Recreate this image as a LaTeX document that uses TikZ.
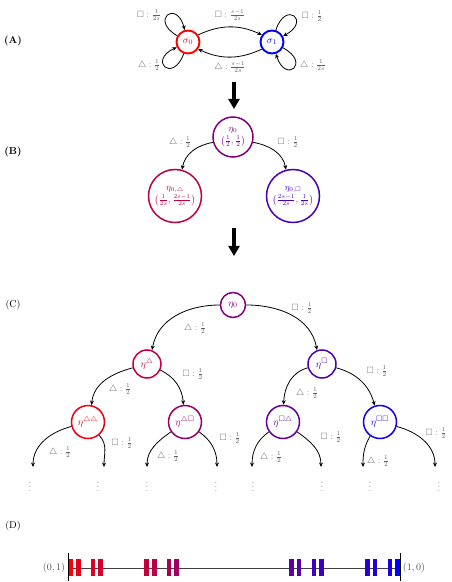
\documentclass[tikz,border=0pt]{standalone}
\usepackage{amssymb}
\usetikzlibrary{arrows.meta}
\colorlet{cP}{red!50!blue}
\colorlet{cBL}{red!74!blue}
\colorlet{cBR}{red!28!blue}
\colorlet{cL}{red!76!blue}
\colorlet{cR}{red!30!blue}
\colorlet{cLL}{red!92!blue}
\colorlet{cLR}{red!60!blue}
\colorlet{cRL}{red!40!blue}
\colorlet{cRR}{red!8!blue}
\colorlet{labgray}{black!62}
\tikzset{
  stnode/.style={circle, draw, line width=1.9pt, minimum size=23pt, inner sep=0pt},
  bnode/.style={circle, draw, line width=1.5pt, inner sep=0pt, align=center, font=\small},
  tnode/.style={circle, draw, line width=1.5pt, inner sep=0pt, font=\normalsize},
  lab/.style={text=labgray, font=\small, inner sep=1pt},
  arr/.style={-{Stealth[length=4.5pt,width=4pt]}, line width=0.8pt},
  bigarr/.style={-{Triangle[length=10pt,width=11pt]}, line width=3.6pt},
  panel/.style={font=\normalsize, inner sep=0pt},
  dots/.style={font=\scriptsize, inner sep=0pt}
}
\begin{document}
\begin{tikzpicture}[x=1pt,y=1pt]
\useasboundingbox (0,0) rectangle (452,582);
% ---------- (A)
\node[panel] (pA) at (13,541) {\textbf{(A)}};
\node[stnode, draw=red, text=red] (s0) at (188,540) {$\sigma_0$};
\node[stnode, draw=blue, text=blue] (s1) at (272,540) {$\sigma_1$};
\draw[arr] (s0.150) .. controls +(150:32) and +(105:32) .. (s0.105);
\draw[arr] (s0.250) .. controls +(250:32) and +(205:32) .. (s0.205);
\draw[arr] (s1.72) .. controls +(72:32) and +(28:32) .. (s1.28);
\draw[arr] (s1.-28) .. controls +(-28:32) and +(-72:32) .. (s1.-72);
\draw[arr] (s0.35) to[bend left=25] (s1.145);
\draw[arr] (s1.-145) to[bend left=25] (s0.-35);
\node[lab] (la1) at (149,567) {$\square:\frac{1}{2s}$};
\node[lab] (la2) at (149,517) {$\triangle:\frac{1}{2}$};
\node[lab] (la3) at (312,566) {$\square:\frac{1}{2}$};
\node[lab] (la4) at (313,517) {$\triangle:\frac{1}{2s}$};
\node[lab] (la5) at (230,567) {$\square:\frac{s-1}{2s}$};
\node[lab] (la6) at (230,515) {$\triangle:\frac{s-1}{2s}$};
\coordinate (ar1a) at (234,500);
\coordinate (ar1b) at (234,473);
\draw[bigarr] (ar1a) -- (ar1b);
% ---------- (B)
\node[panel] (pB) at (13,430) {\textbf{(B)}};
\node[bnode, draw=cP, text=cP, minimum size=40pt] (b0) at (233,445) {$\eta_0$\\[1pt]$\left(\frac{1}{2},\frac{1}{2}\right)$};
\node[bnode, draw=cBL, text=cBL, minimum size=53pt] (bL) at (175,386) {$\eta_{0,\triangle}$\\[1pt]$\left(\frac{1}{2s},\frac{2s-1}{2s}\right)$};
\node[bnode, draw=cBR, text=cBR, minimum size=53pt] (bR) at (293,386) {$\eta_{0,\square}$\\[1pt]$\left(\frac{2s-1}{2s},\frac{1}{2s}\right)$};
\draw[arr] (b0.195) to[out=190,in=80] (bL.75);
\draw[arr] (b0.-15) to[out=-10,in=100] (bR.105);
\node[lab] (lb1) at (180,440) {$\triangle:\frac{1}{2}$};
\node[lab] (lb2) at (288,440) {$\square:\frac{1}{2}$};
\coordinate (ar2a) at (234,354);
\coordinate (ar2b) at (234,326);
\draw[bigarr] (ar2a) -- (ar2b);
% ---------- (C)
\node[panel] (pC) at (13,277) {(C)};
\node[tnode, draw=cP, text=cP, minimum size=25pt] (c0) at (233,277) {$\eta_0$};
\node[tnode, draw=cL, text=cL, minimum size=28pt] (cl) at (147,218) {$\eta^{\triangle}$};
\node[tnode, draw=cR, text=cR, minimum size=28pt] (cr) at (322,218) {$\eta^{\square}$};
\node[tnode, draw=cLL, text=cLL, minimum size=33pt] (cll) at (88,160) {$\eta^{\triangle\triangle}$};
\node[tnode, draw=cLR, text=cLR, minimum size=33pt] (clr) at (185,160) {$\eta^{\triangle\square}$};
\node[tnode, draw=cRL, text=cRL, minimum size=33pt] (crl) at (283,160) {$\eta^{\square\triangle}$};
\node[tnode, draw=cRR, text=cRR, minimum size=33pt] (crr) at (380,160) {$\eta^{\square\square}$};
\draw[arr] (c0.west) to[out=180,in=80] (cl.70);
\draw[arr] (c0.east) to[out=0,in=100] (cr.110);
\draw[arr] (cl.195) to[out=195,in=85] (cll.78);
\draw[arr] (cl.-25) to[out=-25,in=95] (clr.95);
\draw[arr] (cr.195) to[out=195,in=88] (crl.88);
\draw[arr] (cr.-15) to[out=-15,in=105] (crr.108);
\coordinate (f1) at (33,115);
\coordinate (f2) at (104,115);
\coordinate (f3) at (147,115);
\coordinate (f4) at (217,115);
\coordinate (f5) at (252,115);
\coordinate (f6) at (321,115);
\coordinate (f7) at (363,115);
\coordinate (f8) at (435,115);
\draw[arr] (cll.195) to[out=195,in=90] (f1);
\draw[arr] (cll.-50) to[out=-45,in=90] (f2);
\draw[arr] (clr.215) to[out=215,in=90] (f3);
\draw[arr] (clr.-35) to[out=-35,in=90] (f4);
\draw[arr] (crl.215) to[out=215,in=90] (f5);
\draw[arr] (crl.-35) to[out=-35,in=90] (f6);
\draw[arr] (crr.235) to[out=240,in=90] (f7);
\draw[arr] (crr.-15) to[out=-15,in=90] (f8);
\node[lab] (lc1) at (302,274) {$\square:\frac{1}{2}$};
\node[lab] (lc2) at (195,254) {$\triangle:\frac{1}{2}$};
\node[lab] (lc3) at (193,208) {$\square:\frac{1}{2}$};
\node[lab] (lc4) at (120,193) {$\triangle:\frac{1}{2}$};
\node[lab] (lc5) at (377,211) {$\square:\frac{1}{2}$};
\node[lab] (lc6) at (307,189) {$\triangle:\frac{1}{2}$};
\node[lab] (lc7) at (60,130) {$\triangle:\frac{1}{2}$};
\node[lab] (lc8) at (122,139) {$\square:\frac{1}{2}$};
\node[lab] (lc9) at (168,126) {$\triangle:\frac{1}{2}$};
\node[lab] (lc10) at (230,144) {$\square:\frac{1}{2}$};
\node[lab] (lc11) at (271,125) {$\triangle:\frac{1}{2}$};
\node[lab] (lc12) at (331,145) {$\square:\frac{1}{2}$};
\node[lab] (lc13) at (378,121) {$\triangle:\frac{1}{2}$};
\node[lab] (lc14) at (436,149) {$\square:\frac{1}{2}$};
\node[dots] (d1) at (30,98) {$\vdots$};
\node[dots] (d2) at (98,98) {$\vdots$};
\node[dots] (d3) at (147,98) {$\vdots$};
\node[dots] (d4) at (216,98) {$\vdots$};
\node[dots] (d5) at (253,98) {$\vdots$};
\node[dots] (d6) at (322,98) {$\vdots$};
\node[dots] (d7) at (370,98) {$\vdots$};
\node[dots] (d8) at (439,98) {$\vdots$};
% ---------- (D)
\node[panel] (pD) at (13,56) {(D)};
\coordinate (dA) at (68,14);
\coordinate (dB) at (400,14);
\draw[black!75, line width=0.7pt] (dA) -- (dB);
\foreach \x/\p in {68.2/100, 75.7/90, 90.6/87, 98.3/83, 144.0/77, 151.7/74, 166.6/67, 174.2/63}{
  \fill[red!\p!blue] (\x,6) rectangle ++(4.8,17);
}
\foreach \x/\p in {68.2/0, 75.7/10, 90.6/13, 98.3/17, 144.0/23, 151.7/26, 166.6/33, 174.2/37}{
  \fill[red!\p!blue] ({468-\x-4.8},6) rectangle ++(4.8,17);
}
\draw[line width=0.7pt] (68,1) -- (68,29);
\draw[line width=0.7pt] (400,1) -- (400,29);
\node[lab, text=black!70, font=\normalsize] (d01) at (54,14) {$(0,1)$};
\node[lab, text=black!70, font=\normalsize] (d10) at (414,14) {$(1,0)$};
\end{tikzpicture}
\end{document}
